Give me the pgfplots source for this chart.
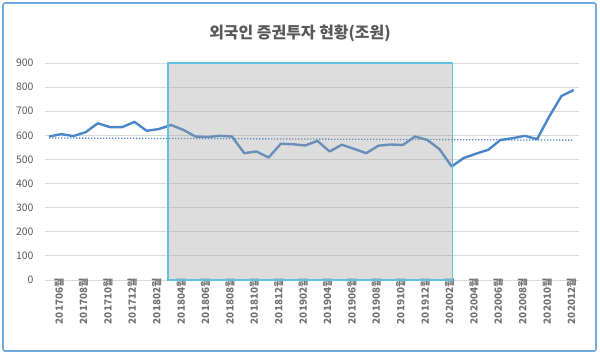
\documentclass[border=0pt]{standalone}
\usepackage{pgfplots}
\pgfplotsset{compat=1.18}
\usepackage{fontspec}
\setmainfont{Noto Sans CJK KR}
\definecolor{linec}{HTML}{4A86C8}
\definecolor{framec}{HTML}{6FA8DC}
\definecolor{rectc}{HTML}{62C2DE}
\definecolor{rectfill}{HTML}{A0A0A0}
\definecolor{textc}{HTML}{595959}
\definecolor{gridc}{HTML}{D9D9D9}
\begin{document}
\begin{tikzpicture}[x=1bp,y=1bp]
\path[use as bounding box] (0,0) rectangle (600,355);
\draw[framec, line width=1.6bp, rounded corners=2bp] (3,4) rectangle (596,352);
\node[font=\fontsize{16}{18}\selectfont\bfseries, text=textc] at (300,322) {외국인 증권투자 현황(조원)};
\begin{axis}[at={(45bp,75bp)}, anchor=south west, scale only axis,
  width=534bp, height=217bp,
  xmin=-0.33, xmax=43.44, ymin=0, ymax=900,
  axis line style={draw=none},
  major tick length=0pt,
  ytick={0,100,...,900},
  xtick={0,2,...,42},
  xticklabels={201706월,201708월,201710월,201712월,201802월,201804월,201806월,201808월,201810월,201812월,201902월,201904월,201906월,201908월,201910월,201912월,202002월,202004월,202006월,202008월,202010월,202012월},
  ymajorgrids, grid style={gridc, line width=0.8bp},
  /pgf/number format/assume math mode=true,
  yticklabel style={font=\fontsize{10.5}{12}\selectfont, text=textc, xshift=-8bp},
  xticklabel style={font=\fontsize{10}{11}\selectfont\bfseries, text=textc!85, rotate=90, anchor=east, xshift=5bp, yshift=-10bp},
  clip=false]
\addplot[linec, line width=2.4bp, line join=round] coordinates {
(0,595) (1,605) (2,597) (3,613) (4,650) (5,634) (6,634) (7,656) (8,619) (9,626)
(10,643) (11,623) (12,595) (13,593) (14,598) (15,595) (16,526) (17,533) (18,508) (19,565)
(20,563) (21,558) (22,577) (23,533) (24,561) (25,544) (26,526) (27,557) (28,562) (29,560)
(30,595) (31,581) (32,543) (33,471) (34,506) (35,524) (36,540) (37,581) (38,588) (39,598)
(40,584) (41,678) (42,763) (43,788)};
\addplot[linec, line width=1.3bp, dash pattern=on 1.3bp off 1.7bp] coordinates {(0,589) (43,580)};
\draw[draw=rectc, line width=1.3bp, fill=rectfill, fill opacity=0.36, draw opacity=1] (axis cs:9.75,0) rectangle (axis cs:33.05,900);
\end{axis}
\end{tikzpicture}
\end{document}
